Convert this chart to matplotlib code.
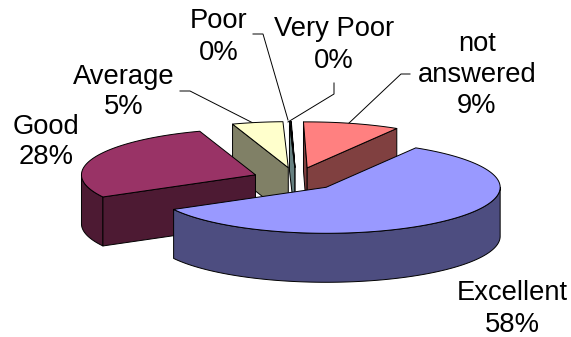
import numpy as np
import matplotlib
matplotlib.use('AGG')
import matplotlib.pyplot as plt
from matplotlib.patches import Polygon

categories = ['Excellent', 'Good', 'Average', 'Poor', 'Very Poor', 'not\nanswered']
values = [58.4, 27.8, 4.7, 0.1, 0.05, 8.95]
top_colors = ['#9999FF', '#993366', '#FFFFCC', '#CCFFFF', '#660066', '#FF8080']
side_colors = ['#4D4D80', '#4D1A33', '#808066', '#668080', '#330033', '#804040']

# pie geometry in pixels
cx, cy = 296, 179
rx, ry = 174, 46
depth = 49
explode = 0.25
start_angle = 31

# label centres
label_pos = [(512, 309), (46, 142), (124, 92), (219, 37), (334, 45), (477, 75)]
# leader lines
leaders = [
    [(253, 34), (263, 34), (288, 120)],
    [(334, 83), (334, 94), (288, 122)],
    [(180, 91), (190, 91), (253, 123)],
    [(410, 74), (401, 74), (348, 124)],
]

plt.rcParams['font.family'] = ['Liberation Sans', 'DejaVu Sans']

fig = plt.figure(figsize=(5.71, 3.37), dpi=100)
ax = fig.add_axes([0, 0, 1, 1])
ax.set_xlim(0, 571)
ax.set_ylim(337, 0)
ax.axis('off')


def point(a, ox, oy):
    # a is degrees clockwise from the top of the pie
    r = np.radians(a)
    return ox + rx * np.sin(r), oy - ry * np.cos(r)


def arc(a0, a1, ox, oy):
    angs = np.linspace(a0, a1, max(2, int(abs(a1 - a0)) * 2))
    return [point(a, ox, oy) for a in angs]


def draw_wedge(a0, a1, top, side, z):
    mid = np.radians((a0 + a1) / 2)
    ox = cx + explode * rx * np.sin(mid)
    oy = cy - explode * ry * np.cos(mid)
    style = dict(edgecolor='black', linewidth=0.7, joinstyle='round', zorder=z)
    p0 = point(a0, ox, oy)
    p1 = point(a1, ox, oy)

    # outer rim, only the part that faces the viewer
    lo, hi = max(a0, 90), min(a1, 270)
    if hi > lo:
        rim = arc(lo, hi, ox, oy)
        rim = rim + [(x, y + depth) for x, y in rim[::-1]]
        ax.add_patch(Polygon(rim, facecolor=side, **style))

    # flat cut faces, when they face the viewer
    if np.cos(np.radians(a0 - 90)) < 0:
        ax.add_patch(Polygon([(ox, oy), p0, (p0[0], p0[1] + depth), (ox, oy + depth)],
                             facecolor=side, **style))
    if np.cos(np.radians(a1 + 90)) < 0:
        ax.add_patch(Polygon([(ox, oy), p1, (p1[0], p1[1] + depth), (ox, oy + depth)],
                             facecolor=side, **style))

    ax.add_patch(Polygon([(ox, oy)] + arc(a0, a1, ox, oy), facecolor=top, **style))


angles = start_angle + 360 * np.concatenate([[0], np.cumsum(values)]) / np.sum(values)

# back to front: very poor hidden behind poor, then not answered, good, excellent
draw_order = [2, 4, 3, 5, 1, 0]
for z, i in enumerate(draw_order):
    draw_wedge(angles[i], angles[i + 1], top_colors[i], side_colors[i], z + 2)

for line in leaders:
    xs, ys = zip(*line)
    ax.plot(xs, ys, color='black', linewidth=0.7, zorder=1)

total = np.sum(values)
for name, v, (x, y) in zip(categories, values, label_pos):
    ax.text(x, y, '%s\n%d%%' % (name, round(v / total * 100)), ha='center', va='center',
            fontsize=19.7, color='black', linespacing=1.25, zorder=10)

fig.savefig('out.png', dpi=100)
